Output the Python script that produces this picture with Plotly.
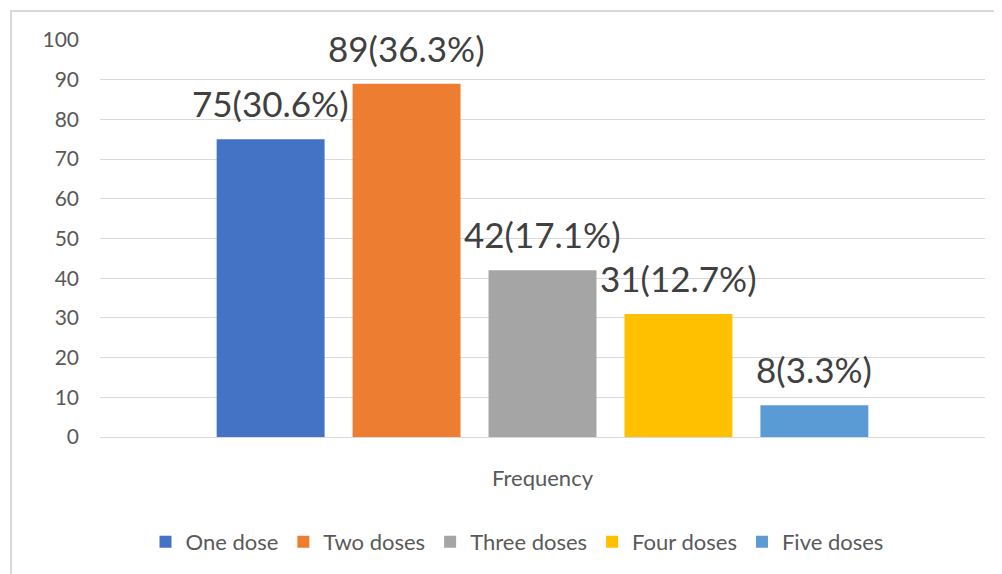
import plotly.graph_objects as go

category = ["Frequency"]
series_names = ["One dose", "Two doses", "Three doses", "Four doses", "Five doses"]
counts = [75, 89, 42, 31, 8]
percents = [30.6, 36.3, 17.1, 12.7, 3.3]
colors = ["#4472C4", "#ED7D31", "#A5A5A5", "#FFC000", "#5B9BD5"]
y_ticks = [0, 10, 20, 30, 40, 50, 60, 70, 80, 90, 100]

OFF = 8  # page body margin
W, H = 1002, 574
ML, MT = 100 - OFF, 40 - OFF
plot_w = 885
plot_h = 397
MR = W - ML - plot_w
MB = H - MT - plot_h
bargap = 0.232
bargroupgap = 0.206
FONT = "Lato, Liberation Sans, sans-serif"

fig = go.Figure()
for name, v, c in zip(series_names, counts, colors):
    fig.add_trace(go.Bar(x=category, y=[v], name=name, marker_color=c,
                         marker_line_width=0))

# data labels above each bar
n = len(series_names)
slot = plot_w * (1 - bargap) / n
for i, (v, p) in enumerate(zip(counts, percents)):
    fig.add_annotation(x=category[0], y=v, xref="x", yref="y",
                       text=f"{v}({p}%)", showarrow=False,
                       xshift=(i - (n - 1) / 2) * slot, yshift=13,
                       yanchor="bottom",
                       font=dict(family=FONT, size=35, color="#404040"))

fig.update_layout(
    width=W, height=H,
    margin=dict(l=ML, r=MR, t=MT, b=MB),
    paper_bgcolor="white", plot_bgcolor="white",
    barmode="group", bargap=bargap, bargroupgap=bargroupgap,
    font=dict(family=FONT, color="#595959"),
    showlegend=True,
    legend=dict(orientation="h", x=(517 - OFF - ML) / plot_w, xanchor="center",
                y=-(542 - OFF - (MT + plot_h)) / plot_h, yanchor="middle",
                font=dict(size=22, color="#595959"), traceorder="normal"),
    yaxis=dict(range=[0, 100], tickvals=y_ticks, showgrid=True,
               gridcolor="#D9D9D9", gridwidth=1, zeroline=True,
               zerolinecolor="#D9D9D9", zerolinewidth=1, showline=False,
               ticks="", tickfont=dict(size=21, color="#595959"),
               ticklabelstandoff=20),
    xaxis=dict(showline=False, ticks="", tickfont=dict(size=22, color="#595959"),
               ticklabelstandoff=26),
)

fig.add_shape(type="rect", xref="paper", yref="paper",
              x0=(11 - OFF - ML) / plot_w, x1=(W + 20 - ML) / plot_w,
              y0=-(H + 20 - MT - plot_h) / plot_h, y1=1 + (MT - (11 - OFF)) / plot_h,
              line=dict(color="#D9D9D9", width=2), fillcolor="rgba(0,0,0,0)",
              layer="below")

fig.write_html("out.html")
